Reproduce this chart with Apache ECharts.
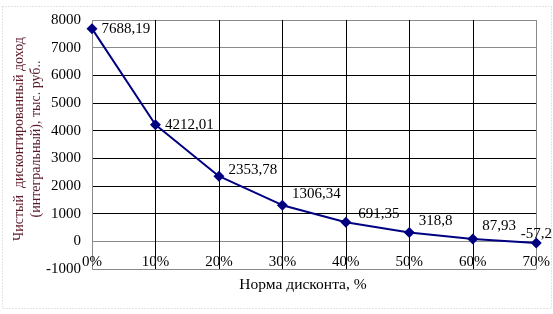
<!DOCTYPE html>
<html>
<head>
<meta charset="utf-8">
<script src="https://cdn.jsdelivr.net/npm/echarts@6/dist/echarts.min.js"></script>
<style>html,body{margin:0;padding:0;background:#fff}#c{width:553px;height:314px}</style>
</head>
<body>
<div id="c"></div>
<script>
var categories = ['0%', '10%', '20%', '30%', '40%', '50%', '60%', '70%'];
var npvValues = [7688.19, 4212.01, 2353.78, 1306.34, 691.35, 318.8, 87.93, -57.2];
var xAxisTitle = 'Норма дисконта, %';
var yAxisTitleLines = ['Чистый  дисконтированный доход', '(интегральный), тыс. руб..'];

var labelOffsets = [[0,0],[0,0],[0,-6],[0,-11],[3,-8],[0,-11],[0,-13],[-25,-9]];
var FONT = 'Liberation Serif';

var chart = echarts.init(document.getElementById('c'), null, {renderer: 'canvas'});
var seriesData = npvValues.map(function (v, i) {
  return {value: v, label: {offset: labelOffsets[i]}};
});
var fill = function (n) {
  var arr = [];
  for (var i = 0; i < n; i++) arr.push('#000');
  return arr;
};
var yColors = fill(10); yColors[0] = '#8a8a8a'; yColors[1] = '#8a8a8a'; yColors[8] = '#8a8a8a'; yColors[9] = '#8a8a8a';
var xColors = fill(8); xColors[0] = '#8a8a8a'; xColors[7] = '#8a8a8a';

chart.setOption({
  animation: false,
  grid: {left: 92, right: 16, top: 20, bottom: 45},
  xAxis: {
    type: 'category',
    data: categories,
    boundaryGap: false,
    axisLine: {show: false},
    axisTick: {show: false},
    axisLabel: {margin: -14, color: '#000', fontFamily: FONT, fontSize: 15, interval: 0},
    splitLine: {show: true, lineStyle: {color: xColors, width: 1}}
  },
  yAxis: {
    type: 'value',
    min: -1000, max: 8000, interval: 1000,
    axisLine: {show: false},
    axisTick: {show: false},
    axisLabel: {margin: 11, color: '#000', fontFamily: FONT, fontSize: 15, formatter: function (v) { return String(v); }},
    splitLine: {show: true, lineStyle: {color: yColors, width: 1}}
  },
  series: [{
    type: 'line',
    data: seriesData,
    symbol: 'diamond',
    symbolSize: 11,
    itemStyle: {color: '#000080'},
    lineStyle: {color: '#000080', width: 2},
    label: {
      show: true, position: 'right', distance: 4,
      color: '#000', fontFamily: FONT, fontSize: 15,
      formatter: function (p) { return String(p.value).replace('.', ','); }
    }
  }],
  graphic: [
    {type: 'rect', shape: {x: 2.5, y: 6.5, width: 549, height: 302}, style: {fill: 'none', stroke: '#c8c8c8', lineWidth: 1, lineDash: [1, 2]}, z: -1},
    {type: 'text', x: 303, y: 285, style: {text: xAxisTitle, fill: '#000', font: '15.5px "' + FONT + '"', align: 'center', verticalAlign: 'middle'}},
    {type: 'text', x: 28, y: 139, rotation: Math.PI / 2, style: {text: yAxisTitleLines.join('\n'), fill: '#5a1a2a', font: '14px "' + FONT + '"', align: 'center', verticalAlign: 'middle', lineHeight: 17}}
  ]
});
</script>
</body>
</html>
